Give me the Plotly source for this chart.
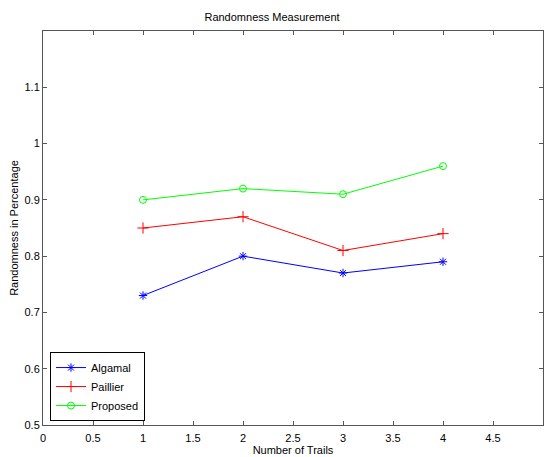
import plotly.graph_objects as go

trials = [1, 2, 3, 4]
algamal = [0.73, 0.80, 0.77, 0.79]
paillier = [0.85, 0.87, 0.81, 0.84]
proposed = [0.90, 0.92, 0.91, 0.96]
xticks = [0, 0.5, 1, 1.5, 2, 2.5, 3, 3.5, 4, 4.5, 5]
yticks = [0.5, 0.6, 0.7, 0.8, 0.9, 1.0, 1.1]
ytext = ["0.5", "0.6", "0.7", "0.8", "0.9", "1", "1.1"]

fig = go.Figure()
series = [("Algamal", algamal, "#0000ff", "asterisk-open", 7),
          ("Paillier", paillier, "#ff0000", "cross-thin-open", 8),
          ("Proposed", proposed, "#00ff00", "circle-open", 7)]
for name, vals, col, sym, sz in series:
    fig.add_trace(go.Scatter(x=trials, y=vals, name=name, mode="lines+markers",
                             line=dict(color=col, width=1),
                             marker=dict(symbol=sym, size=sz, color=col,
                                         line=dict(color=col, width=1))))

axis_common = dict(showgrid=False, zeroline=False, showline=True, linecolor="#555555",
                   linewidth=1, mirror="ticks", ticks="inside", ticklen=4,
                   tickcolor="#555555", tickfont=dict(family="Liberation Sans, Arial", size=11, color="black"))
fig.update_xaxes(range=[0, 5], tickvals=xticks, ticktext=[f"{t:g}" for t in xticks],
                 ticklabelstandoff=3,
                 title=dict(text="Number of Trails", font=dict(size=11, color="black"), standoff=1),
                 **axis_common)
fig.update_yaxes(range=[0.5, 1.2], tickvals=yticks, ticktext=ytext,
                 title=dict(text="Randomness in Percentage", font=dict(size=11, color="black"), standoff=3),
                 **axis_common)
fig.update_layout(
    width=544, height=457,
    margin=dict(l=43, r=1, t=31, b=32),
    paper_bgcolor="white", plot_bgcolor="white",
    font=dict(family="Liberation Sans, Arial", size=11, color="black"),
    title=dict(text="Randomness Measurement", x=0.5, xanchor="center", y=1 - 17/457,
               yanchor="middle", font=dict(size=11, color="black")),
    legend=dict(x=0.014, y=0.01, xanchor="left", yanchor="bottom",
                bordercolor="black", borderwidth=1, bgcolor="white",
                font=dict(size=11, color="black"), tracegroupgap=0),
    showlegend=True,
)
fig.write_html("out.html", config={"displayModeBar": False},
               post_script="document.body.style.margin='0';document.body.style.overflow='hidden';")
